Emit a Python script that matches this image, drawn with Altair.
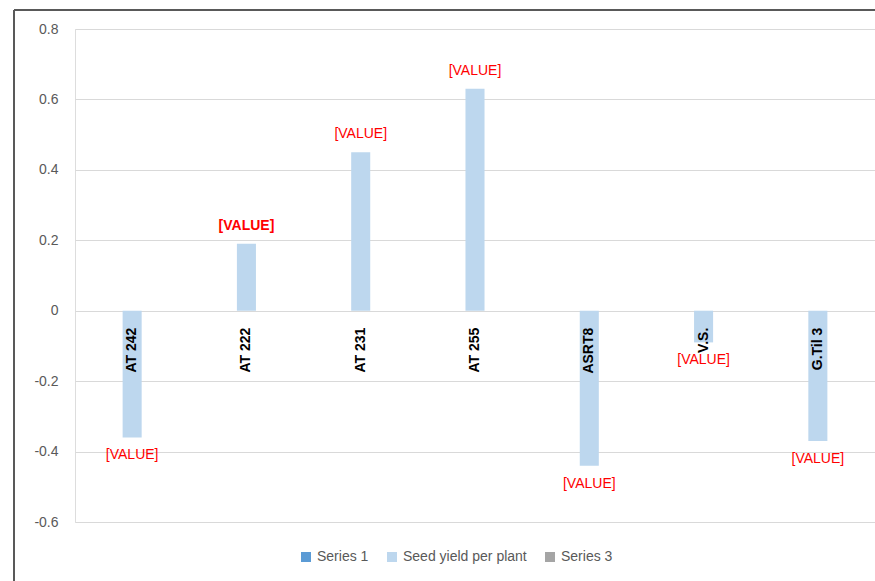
import altair as alt
import pandas as pd

categories = ["AT 242", "AT 222", "AT 231", "AT 255", "ASRT8", "V.S.", "G.Til 3"]
seed_yield = [-0.36, 0.19, 0.45, 0.63, -0.44, -0.09, -0.37]
value_labels = ["[VALUE]"] * 7
label_bold = [False, True, False, False, False, False, False]
series_names = ["Series 1", "Seed yield per plant", "Series 3"]
series_colors = ["#5B9BD5", "#BDD7EE", "#A5A5A5"]
y_ticks = [-0.6, -0.4, -0.2, 0, 0.2, 0.4, 0.6, 0.8]

df = pd.DataFrame({
    "cat": categories,
    "val": seed_yield,
    "label": value_labels,
    "bold": label_bold,
    "series": ["Seed yield per plant"] * len(categories),
})

FONT = "Liberation Sans"

x_enc = alt.X("cat:N", sort=categories,
              scale=alt.Scale(paddingInner=0.5, paddingOuter=0.25),
              axis=None)
y_scale = alt.Scale(domain=[-0.6, 0.8], nice=False, zero=False)

base = alt.Chart(df)

bars = base.mark_bar().encode(
    x=x_enc,
    xOffset=alt.XOffset("series:N", scale=alt.Scale(domain=series_names)),
    y=alt.Y("val:Q", scale=y_scale,
            axis=alt.Axis(values=y_ticks, title=None, domain=False, ticks=False,
                          labelPadding=17, labelColor="#595959", labelFontSize=14,
                          labelFont=FONT, gridColor="#D9D9D9", gridWidth=1,
                          labelExpr="datum.value + ''")),
    color=alt.Color("series:N",
                    scale=alt.Scale(domain=series_names, range=series_colors),
                    legend=alt.Legend(title=None, orient="none", direction="horizontal",
                                      legendX=224, legendY=521, symbolType="square",
                                      symbolSize=100, symbolStrokeWidth=0,
                                      labelFontSize=14, labelFont=FONT,
                                      labelColor="#595959", columnPadding=16,
                                      labelOffset=4)),
)

cat_labels = base.mark_text(angle=270, align="right", baseline="middle", dx=-17,
                            fontWeight="bold", fontSize=14, font=FONT,
                            color="#000000").encode(
    x=x_enc, y=alt.datum(0, scale=y_scale), text="cat:N")

pos_norm = base.transform_filter("datum.val >= 0 && !datum.bold").mark_text(
    baseline="middle", dy=-18, fontSize=14, font=FONT, color="#FF0000").encode(
    x=x_enc, y=alt.Y("val:Q", scale=y_scale), text="label:N")
pos_bold = base.transform_filter("datum.val >= 0 && datum.bold").mark_text(
    baseline="middle", dy=-18, fontSize=14, font=FONT, fontWeight="bold",
    color="#FF0000").encode(
    x=x_enc, y=alt.Y("val:Q", scale=y_scale), text="label:N")
neg_lab = base.transform_filter("datum.val < 0").mark_text(
    baseline="middle", dy=18, fontSize=14, font=FONT, color="#FF0000").encode(
    x=x_enc, y=alt.Y("val:Q", scale=y_scale), text="label:N")

frame_df = pd.DataFrame({"k": [0]})
frame_left = alt.Chart(frame_df).mark_rule(color="#595959", strokeWidth=2).encode(
    x=alt.value(-61), y=alt.value(-19), y2=alt.value(560))
frame_top = alt.Chart(frame_df).mark_rule(color="#595959", strokeWidth=2).encode(
    x=alt.value(-61), x2=alt.value(810), y=alt.value(-19))

chart = alt.layer(bars, cat_labels, pos_norm, pos_bold, neg_lab, frame_left, frame_top).properties(
    width=800, height=493,
    autosize=alt.AutoSizeParams(type="none"),
    padding={"left": 75, "top": 29, "right": 0, "bottom": 59},
).configure_view(stroke=None).configure(background="white")

chart.save("out.html", embed_options={"renderer": "svg", "actions": False})
